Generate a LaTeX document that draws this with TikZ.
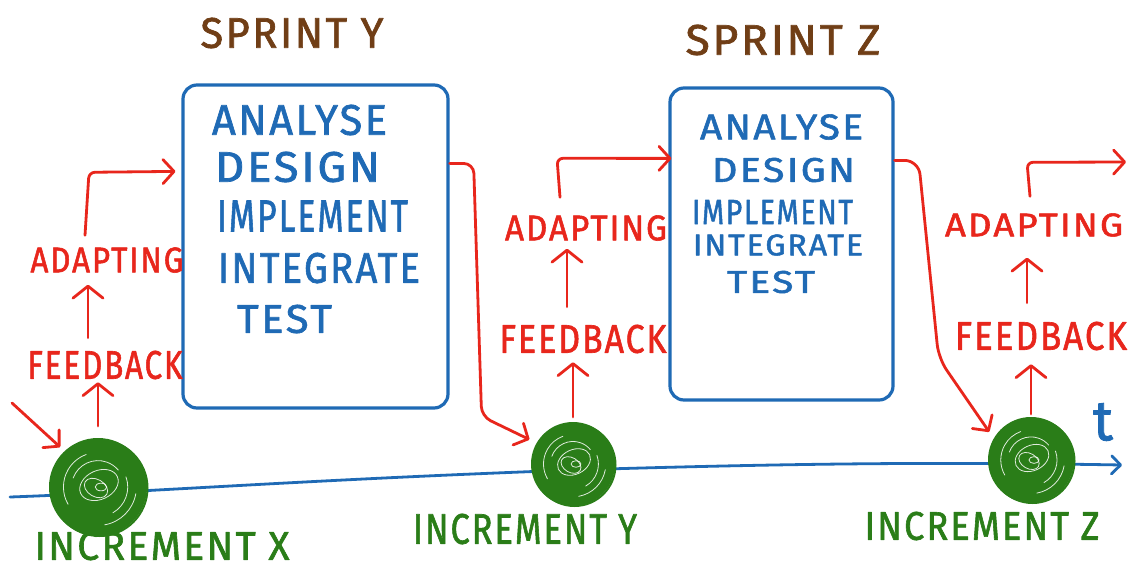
\documentclass[tikz,border=0pt]{standalone}
\usepackage{fontspec}
\usetikzlibrary{arrows.meta,calc}
\newfontfamily\handfont[LetterSpace=6, FakeBold=1.6]{Fira Sans}
% text squeezed into an exact width x height (in pt)
\newcommand\sketchtxt[3]{\resizebox{#1pt}{#2pt}{\handfont #3}}
\definecolor{inkblue}{RGB}{31,106,181}
\definecolor{inkred}{RGB}{232,38,28}
\definecolor{inkgreen}{RGB}{42,125,24}
\definecolor{inkbrown}{RGB}{112,62,22}
% white scribble loops inside a filled milestone
\newcommand\scribloops[2]{%
  \begin{scope}[shift={(#1)}, white, line width=0.8pt, opacity=0.85]
    \draw (1,-2) ellipse [x radius=0.42*#2, y radius=0.30*#2, rotate=25];
    \draw (-2,1) ellipse [x radius=0.26*#2, y radius=0.18*#2, rotate=-30];
    \draw (3,0) ellipse [x radius=0.12*#2, y radius=0.08*#2];
    \draw (150:0.72*#2) arc (150:250:0.72*#2);
    \draw (10:0.8*#2) arc (10:80:0.8*#2);
    \draw (200:0.55*#2) arc (200:320:0.55*#2);
    \draw (-20:0.62*#2) arc (-20:60:0.62*#2);
  \end{scope}
  \draw[inkgreen, line width=2pt] ($(#1)+(1.5,1)$) circle [radius=#2];
}
\begin{document}
\begin{tikzpicture}[x=1pt, y=-1pt, line cap=round, line join=round,
  txt/.style={inner sep=0pt, outer sep=0pt},
  bluetxt/.style={txt, text=inkblue, anchor=west},
  redtxt/.style={txt, text=inkred},
  greentxt/.style={txt, text=inkgreen},
  browntxt/.style={txt, text=inkbrown},
  sprintbox/.style={draw=inkblue, line width=3.2pt, rounded corners=14pt, inner sep=0pt},
  ball/.style={circle, fill=inkgreen, draw=inkgreen, line width=2pt, inner sep=0pt},
  flow/.style={draw=inkred, line width=2.8pt, rounded corners=6pt,
    -{Straight Barb[length=11pt, width=24pt, round]}},
  upflow/.style={draw=inkred, line width=2.8pt,
    -{Straight Barb[length=12pt, width=30pt, round]}},
  timeline/.style={draw=inkblue, line width=2.8pt,
    -{Straight Barb[length=9pt, width=18pt, round]}}]
\useasboundingbox (0,0) rectangle (1132,571);
\fill[white] (0,0) rectangle (1132,571);

% sprint titles
\node[browntxt] (sprY) at (292,33) {\sketchtxt{183}{30}{SPRINT Y}};
\node[browntxt] (sprZ) at (783,40) {\sketchtxt{195}{30}{SPRINT Z}};

% sprint boxes
\node[sprintbox, minimum width=265pt, minimum height=323pt] (b1) at (315.5,246.5) {};
\node[sprintbox, minimum width=223pt, minimum height=312pt] (b2) at (781.5,244) {};

% activities of sprint Y
\node[bluetxt] (b1a) at (212,120) {\sketchtxt{175}{30}{ANALYSE}};
\node[bluetxt] (b1d) at (215,167) {\sketchtxt{165}{30}{DESIGN}};
\node[bluetxt] (b1i) at (217,216) {\sketchtxt{191}{31}{IMPLEMENT}};
\node[bluetxt] (b1n) at (218,268) {\sketchtxt{202}{30}{INTEGRATE}};
\node[bluetxt] (b1t) at (237,319) {\sketchtxt{95}{28}{TEST}};

% activities of sprint Z
\node[bluetxt] (b2a) at (700,127) {\sketchtxt{163}{25}{ANALYSE}};
\node[bluetxt] (b2d) at (712,170) {\sketchtxt{143}{24}{DESIGN}};
\node[bluetxt] (b2i) at (692,212) {\sketchtxt{161}{24}{IMPLEMENT}};
\node[bluetxt] (b2n) at (693,245) {\sketchtxt{170}{21}{INTEGRATE}};
\node[bluetxt] (b2t) at (727,282) {\sketchtxt{88}{22}{TEST}};

% feedback / adapting labels
\node[redtxt] (adX) at (107,260) {\sketchtxt{153}{25}{ADAPTING}};
\node[redtxt] (fbX) at (105,365) {\sketchtxt{155}{28}{FEEDBACK}};
\node[redtxt] (adY) at (586,228) {\sketchtxt{162}{25}{ADAPTING}};
\node[redtxt] (fbY) at (583,339) {\sketchtxt{167}{28}{FEEDBACK}};
\node[redtxt] (adZ) at (1034,225) {\sketchtxt{178}{23}{ADAPTING}};
\node[redtxt] (fbZ) at (1041,336) {\sketchtxt{172}{28}{FEEDBACK}};

% time axis
\coordinate (tA) at (10,497);
\coordinate (tB) at (1122,465);
\draw[timeline] (tA) .. controls (150,492) and (300,480) .. (573,470)
  .. controls (800,463) and (950,462) .. (tB);
\node[txt, text=inkblue] (tlabel) at (1103,422) {\sketchtxt{20}{37}{t}};

% increments
\node[ball, minimum size=96pt] (cX) at (98,487) {};
\node[ball, minimum size=82pt] (cY) at (573,464) {};
\node[ball, minimum size=84pt] (cZ) at (1031,460) {};
\scribloops{cX}{48}
\scribloops{cY}{41}
\scribloops{cZ}{42}

\node[greentxt] (incX) at (162,546) {\sketchtxt{255}{28}{INCREMENT X}};
\node[greentxt] (incY) at (525,529) {\sketchtxt{224}{30}{INCREMENT Y}};
\node[greentxt] (incZ) at (982,526) {\sketchtxt{235}{28}{INCREMENT Z}};

% feedback loop around increment X
\coordinate (inX) at (12,403);
\draw[flow, shorten >=6pt] (inX) -- (cX.133);
\draw[upflow, shorten <=12pt, shorten >=3pt] (cX.north) -- (cX.north |- fbX.south);
\draw[upflow, shorten <=13pt, shorten >=12pt] ($(fbX.north)+(-17,0)$) -- ($(adX.south)+(-19,0)$);
\draw[flow] ($(adX.north)+(-22,-12)$) -- ++(4,-63) -- ($(b1.north west)+(-6,88)$);

% sprint Y delivers increment Y
\draw[flow, rounded corners=10pt, shorten >=8pt] ($(b1.north east)+(0,80)$) -- ++(24,0) -- ++(8,253) -- (cY.150);

% feedback loop around increment Y
\draw[upflow, shorten <=5pt, shorten >=9pt] (cY.north) -- (cY.north |- fbY.south);
\draw[upflow, shorten <=18pt, shorten >=8pt] ($(fbY.north)+(-16,0)$) -- ($(adY.south)+(-19,0)$);
\draw[flow] ($(adY.north)+(-26,-18)$) -- ++(-3,-39) -- ($(b2.north west)+(3,72)$);

% sprint Z delivers increment Z
\draw[flow, rounded corners=14pt, shorten >=8pt] ($(b2.north east)+(0,74)$) -- ++(24,0) -- ++(20,198) -- (cZ.150);

% feedback loop around increment Z
\coordinate (oZ) at (1126,162);
\draw[upflow, shorten <=3pt, shorten >=14pt] (cZ.north) -- (cZ.north |- fbZ.south);
\draw[upflow, shorten <=19pt, shorten >=21pt] ($(fbZ.north)+(-14,0)$) -- ($(adZ.south)+(-7,0)$);
\draw[flow] ($(adZ.north)+(-4,-17)$) -- ++(-3,-34) -- (oZ);
\end{tikzpicture}
\end{document}
